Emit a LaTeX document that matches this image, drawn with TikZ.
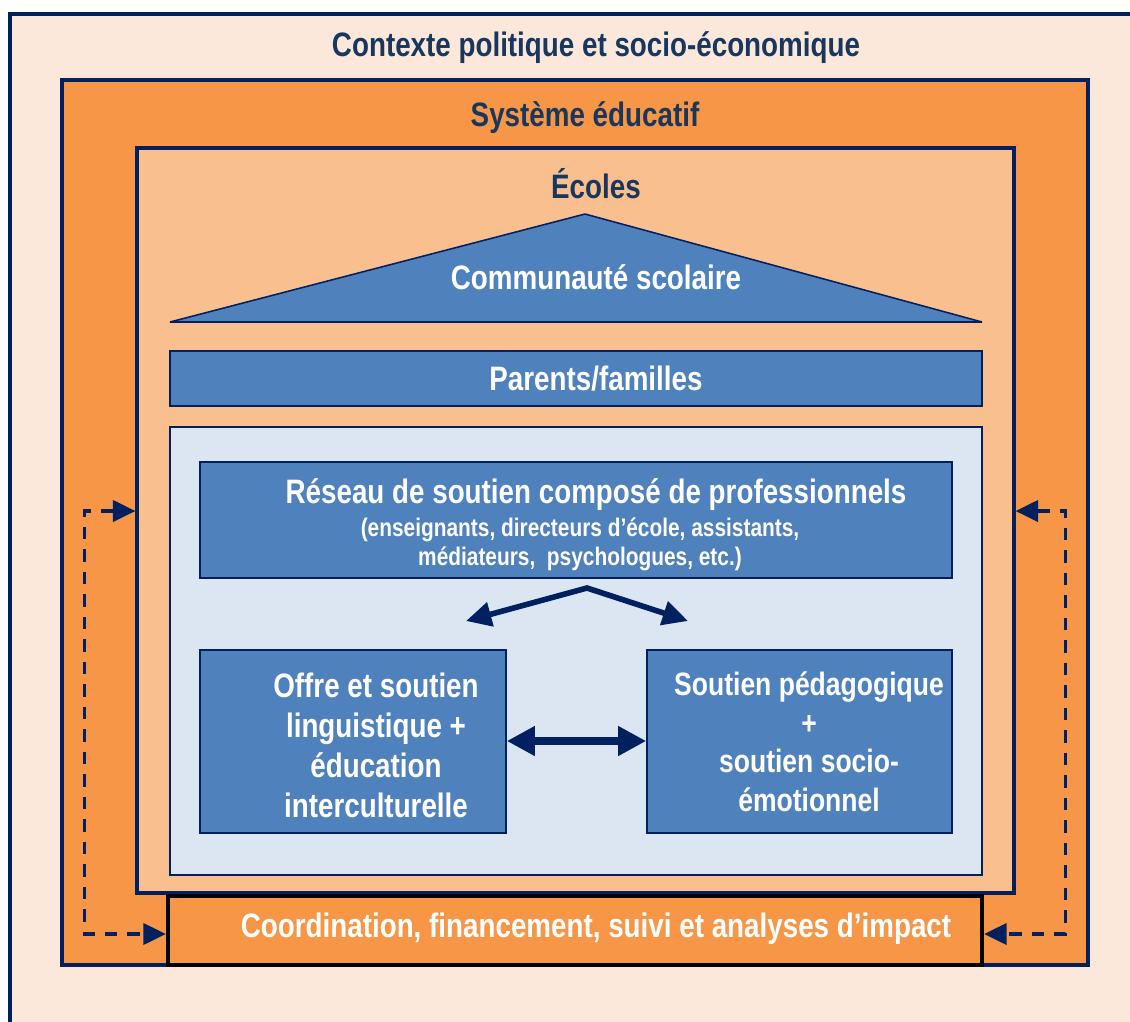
\documentclass[tikz,border=0pt]{standalone}
\usepackage{fontspec}
\setmainfont{Liberation Sans}[FakeStretch=0.82]
\usetikzlibrary{arrows.meta,fit,positioning}

\definecolor{navy}{HTML}{002060}
\definecolor{navytext}{HTML}{17375E}
\definecolor{contexte}{HTML}{FCE8DA}
\definecolor{orangebox}{HTML}{F79646}
\definecolor{ecolefill}{HTML}{F9BF8F}
\definecolor{bleu}{HTML}{4F81BD}
\definecolor{bleuclair}{HTML}{DCE6F2}

\tikzset{
  cadre/.style={draw=navy, line width=2.2pt, inner sep=0pt},
  bloc/.style={draw=navy, line width=1.1pt, fill=bleu, inner sep=0pt},
  titre/.style={text=navytext, font=\bfseries\fontsize{24.1}{28.4}\selectfont},
  blanc/.style={text=white, font=\bfseries\fontsize{24.1}{28.4}\selectfont, align=center},
  petit/.style={text=white, font=\bfseries\fontsize{18.1}{20.6}\selectfont, align=center},
  grosse/.style={navy, line width=5pt,
    {Triangle[length=20pt,width=20pt]}-{Triangle[length=20pt,width=20pt]}},
  fine/.style={navy, line width=4pt,
    {Triangle[length=18pt,width=17pt]}-{Triangle[length=18pt,width=17pt]}},
  pointille/.style={navy, line width=2.4pt, dash pattern=on 9pt off 7pt,
    {Triangle[length=16pt,width=15pt]}-{Triangle[length=16pt,width=15pt]}}
}

\begin{document}
\begin{tikzpicture}[x=0.025cm, y=-0.025cm]
  \clip (0,0) rectangle (1130,1021);
  % contexte
  \fill[white] (0,0) rectangle (1130,1021);
  \draw[cadre, fill=contexte] (10,14) rectangle (1150,1040);
  \node[titre] (contexte) at (596,48) {Contexte politique et socio-économique};

  % systeme educatif
  \node[cadre, fill=orangebox, fit={(62,80) (1088,965)}] (systeme) {};
  \node[titre] (systemetxt) at (585,118) {Système éducatif};

  % ecoles
  \node[cadre, fill=ecolefill, fit={(137,148) (1014,893)}] (ecoles) {};
  \node[titre] (ecolestxt) at (596,184) {Écoles};

  % toit
  \filldraw[fill=bleu, draw=navy, line width=1.1pt, line join=bevel] (170,322) -- (585,214) -- (982,322) -- cycle;
  \node[blanc] (communaute) at (596,277) {Communauté scolaire};

  \node[bloc, fit={(170,351) (982,406)}] (parents) {};
  \node[blanc] (parentstxt) at (596,379) {Parents/familles};

  \node[draw=navy, line width=1.1pt, fill=bleuclair, inner sep=0pt, fit={(170,427) (982,875)}] (soutiens) {};

  % reseau
  \node[bloc, fit={(200,462) (952,578)}] (reseau) {};
  \node[blanc] (reseautxt) at (596,495) {Réseau de soutien composé de professionnels};
  \node[petit] (reseausub) at (580,544) {(enseignants, directeurs d’école, assistants,\\médiateurs,~~psychologues, etc.)};

  \node[bloc, fit={(200,650) (506,833)}] (offre) {};
  \node[blanc] (offretxt) at (376,745) {Offre et soutien\\linguistique +\\éducation\\interculturelle};

  \node[bloc, fit={(647,650) (952,833)}] (peda) {};
  \node[blanc, font=\bfseries\fontsize{23}{27.4}\selectfont] (pedatxt) at (809,742) {Soutien pédagogique\\+\\soutien socio-\\émotionnel};

  % fleches
  \coordinate (sommet) at (587,588);
  \coordinate (gauche) at (466,621);
  \coordinate (droite) at (688,621);
  \draw[fine, line join=miter] (gauche) -- (sommet) -- (droite);
  \draw[grosse] (offre.east |- 0,741) -- (peda.west |- 0,741);

  % coordination
  \node[draw=black, line width=3pt, fill=orangebox, inner sep=0pt, fit={(168,896) (982,965)}] (coord) {};
  \node[blanc] (coordtxt) at (596,929) {Coordination, financement, suivi et analyses d’impact};

  \coordinate (niveau) at (0,511);
  \coordinate (bas) at (0,934);
  \draw[pointille] (ecoles.west |- niveau) -- ++(-51,0) |- (coord.west |- bas);
  \draw[pointille] (ecoles.east |- niveau) -- ++(50,0) |- (coord.east |- bas);
\end{tikzpicture}
\end{document}
